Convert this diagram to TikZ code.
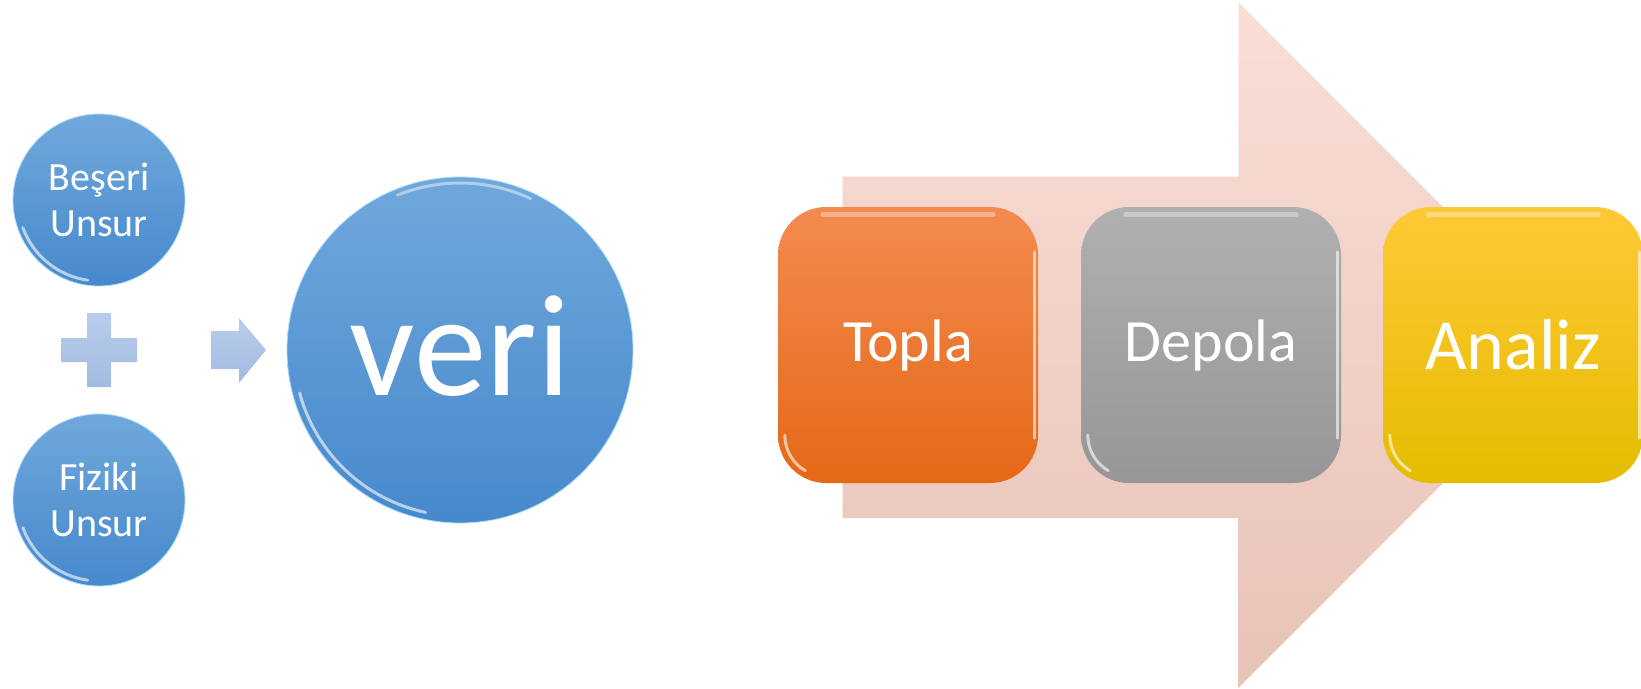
\documentclass[tikz,border=0pt]{standalone}
\usepackage{fontspec}
\setmainfont{Carlito}
\usetikzlibrary{positioning}

\definecolor{blueTop}{HTML}{70A8DC}
\definecolor{blueBot}{HTML}{4689CC}
\definecolor{blueRim}{HTML}{A8DCF8}
\definecolor{paleBlue}{HTML}{B9CDEB}
\definecolor{paleBlueDk}{HTML}{A3BBE0}
\definecolor{pinkTop}{HTML}{FADED6}
\definecolor{pinkBot}{HTML}{E8C3B7}
\definecolor{orangeTop}{HTML}{F38B50}
\definecolor{orangeBot}{HTML}{E56817}
\definecolor{greyTop}{HTML}{B0B0B0}
\definecolor{greyBot}{HTML}{969696}
\definecolor{yellowTop}{HTML}{FFC936}
\definecolor{yellowBot}{HTML}{E5BC00}

\tikzset{
  bubble/.style={circle, inner sep=0pt, text=white, align=center,
    top color=blueTop, bottom color=blueBot, draw=blueRim, line width=0.8pt},
  stepbox/.style={rounded corners=48pt, minimum width=260pt,
    minimum height=276pt, inner sep=0pt, text=white},
  rim/.style={white, opacity=0.6, line width=3pt, line cap=round},
  glare/.style={white, opacity=0.35, line width=5pt, line cap=round},
}

\begin{document}
\begin{tikzpicture}[x=1pt, y=-1pt]
  \useasboundingbox (0,0) rectangle (1641,688);

  % big process arrow behind the steps
  \shade[top color=pinkTop, bottom color=pinkBot]
    (842,176) -- (1238,176) -- (1238,2) -- (1581,345)
    -- (1238,688) -- (1238,518) -- (842,518) -- cycle;
  \draw[white, opacity=0.6, line width=1.5pt]
    (842,518) -- (842,176) -- (1238,176) -- (1238,2);

  % the two parts and the result
  \node[bubble, minimum size=172pt, font=\fontsize{40}{46}\selectfont]
    (beseri) at (99,200) {Beşeri\\Unsur};
  \node[bubble, minimum size=172pt, font=\fontsize{40}{46}\selectfont]
    (fiziki) at (99,500) {Fiziki\\Unsur};
  \node[bubble, minimum size=346pt, font=\fontsize{145}{150}\selectfont]
    (veri) at (460,350) {\raisebox{9pt}{veri}};

  % glassy rims (radii in pt, so angles are page angles)
  \foreach \c in {beseri, fiziki}
    \draw[rim] ([shift={(200:81pt)}]\c.center)
      arc[start angle=200, end angle=262, radius=81pt];
  \draw[rim] ([shift={(195:166pt)}]veri.center)
    arc[start angle=195, end angle=258, radius=166pt];
  \draw[rim, opacity=0.45] ([shift={(112:167pt)}]veri.center)
    arc[start angle=112, end angle=65, radius=167pt];

  % plus sign
  \shade[top color=paleBlue, bottom color=paleBlueDk]
    (87,313) -- (111,313) -- (111,338) -- (137,338) -- (137,362)
    -- (111,362) -- (111,387) -- (87,387) -- (87,362) -- (61,362)
    -- (61,338) -- (87,338) -- cycle;

  % small arrow into veri
  \shade[top color=paleBlue, bottom color=paleBlueDk]
    (211,331) -- (239,331) -- (239,318) -- (266,350)
    -- (239,383) -- (239,369) -- (211,369) -- cycle;

  % steps
  \node[stepbox, top color=orangeTop, bottom color=orangeBot,
    font=\fontsize{60}{66}\selectfont] (topla) at (908,345) {Topla};
  \node[stepbox, top color=greyTop, bottom color=greyBot,
    font=\fontsize{60}{66}\selectfont] (depola) at (1211,345) {Depola};
  \node[stepbox, top color=yellowTop, bottom color=yellowBot,
    font=\fontsize{72}{80}\selectfont] (analiz) at (1513,345) {Analiz};

  \foreach \b in {topla, depola, analiz} {
    \draw[glare] ([xshift=45pt, yshift=-8pt]\b.north west)
      -- ([xshift=-45pt, yshift=-8pt]\b.north east);
    \draw[rim] ([xshift=-4pt, yshift=-45pt]\b.north east)
      -- ([xshift=-4pt, yshift=45pt]\b.south east);
    \draw[rim] ([xshift=7pt, yshift=48pt]\b.south west)
      arc[start angle=180, end angle=240, radius=41pt];
  }
\end{tikzpicture}
\end{document}
